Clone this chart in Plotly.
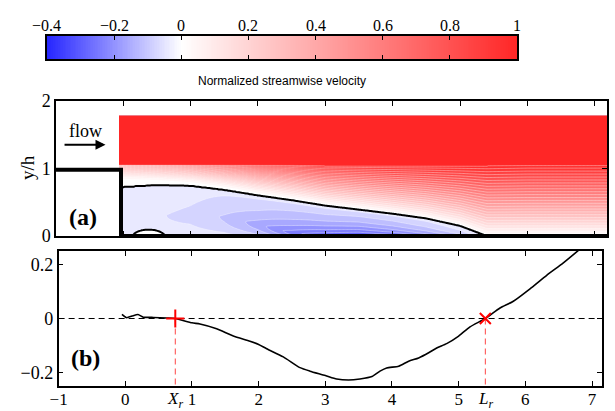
import numpy as np
import plotly.graph_objects as go

# ---------------- data ----------------
# colorbar ticks
cb_ticks = [-0.4, -0.2, 0, 0.2, 0.4, 0.6, 0.8, 1]
cb_labels = ['\u22120.4', '\u22120.2', '0', '0.2', '0.4', '0.6', '0.8', '1']

# panel (a): streamwise stations and profile descriptors of the velocity field
sx    = [-0.06, 0.0, 0.5, 1.0, 1.5, 2.0, 2.5, 3.0, 3.5, 4.0, 4.5, 5.0, 5.4, 6.0, 7.2]
h0    = [0.72, 0.72, 0.75, 0.74, 0.68, 0.60, 0.53, 0.45, 0.39, 0.33, 0.26, 0.15, 0.0, 0.0, 0.0]
umin  = [-0.03, -0.03, -0.036, -0.05, -0.085, -0.14, -0.22, -0.29, -0.31, -0.27, -0.20, -0.11, 0.0, 0.0, 0.0]
etap  = [0.4, 0.4, 0.4, 0.45, 0.42, 0.3, 0.1, 0.0, 0.0, 0.0, 0.0, 0.0, 0.0, 0.0, 0.0]
wall  = [0.6, 0.6, 0.4, 0.25, 0.25, 0.45, 0.8, 1.0, 1.0, 1.0, 1.0, 1.0, 1.0, 1.0, 1.0]
kdec  = [0.8, 0.8, 0.8, 0.8, 0.9, 1.2, 1.5, 1.8, 1.8, 1.8, 1.8, 1.8, 1.8, 1.8, 1.8]
pexp  = [3.2, 3.2, 2.4, 1.9, 1.6, 1.35, 1.2, 1.1, 1.05, 1.0, 0.97, 0.95, 0.95, 0.95, 0.95]
htop  = [1.05, 1.05, 1.05, 1.05, 1.05, 1.05, 1.05, 1.04, 1.04, 1.04, 1.04, 1.04, 1.04, 1.05, 1.05]
# small secondary corner bubble
bub_x, bub_w, bub_h, bub_amp = 0.38, 0.30, 0.14, 0.045

# panel (b): near-wall streamwise velocity
bx = [-0.05, 0.02, 0.1, 0.19, 0.27, 0.42, 0.62, 0.75, 1.0, 1.12, 1.37, 1.62, 1.87, 2.0, 2.12,
      2.37, 2.62, 2.77, 3.0, 3.17, 3.35, 3.52, 3.70, 3.82, 3.92, 4.10, 4.25, 4.40, 4.55, 4.67,
      4.82, 5.0, 5.17, 5.40, 5.62, 5.82, 6.07, 6.32, 6.57, 6.80]
by = [0.015, 0.003, 0.009, 0.015, 0.005, 0.004, 0.002, 0.0, -0.016, -0.02, -0.038, -0.065,
      -0.084, -0.096, -0.112, -0.142, -0.182, -0.195, -0.211, -0.224, -0.228, -0.224, -0.215,
      -0.195, -0.183, -0.177, -0.158, -0.146, -0.127, -0.109, -0.093, -0.065, -0.031, 0.0,
      0.039, 0.064, 0.11, 0.16, 0.206, 0.253]
Xr = 0.75
Lr = 5.40
bx_ticks = [-1, 0, 1, 2, 3, 4, 5, 6, 7]
by_ticks = [-0.2, 0, 0.2]

# ---------------- build field for panel (a) ----------------
X = np.arange(-0.06, 7.2001, 0.02)
Y = np.arange(0.0, 1.7801, 0.01)
H0 = np.interp(X, sx, h0)
UM = np.interp(X, sx, umin)
EP = np.interp(X, sx, etap)
W0 = np.interp(X, sx, wall)
KD = np.interp(X, sx, kdec)
PE = np.interp(X, sx, pexp)
HT = np.interp(X, sx, htop)

U = np.zeros((len(Y), len(X)))
for j, xv in enumerate(X):
    for i, yv in enumerate(Y):
        if yv >= HT[j]:
            u = 1.02
        elif yv >= H0[j]:
            s = (yv - H0[j]) / (HT[j] - H0[j])
            u = s ** PE[j]
        else:
            eta = yv / H0[j]
            ep = EP[j]
            if ep > 0 and eta < ep:
                f = W0[j] + (1 - W0[j]) * np.sin(np.pi / 2 * eta / ep)
            else:
                s = (eta - ep) / (1 - ep)
                f = np.exp(-KD[j] * s) * (1 - s ** 12)
            u = UM[j] * f
        r2 = ((xv - bub_x) / bub_w) ** 2 + (yv / bub_h) ** 2
        if r2 < 1:
            u += bub_amp * (1 - r2)
        U[i, j] = u

BLUE = 'rgb(38,38,255)'
RED = 'rgb(255,38,38)'
cscale = [[0, BLUE], [0.0278, BLUE], [0.3056, 'rgb(255,255,255)'], [1, RED]]

SERIF = 'Liberation Serif, Times New Roman, serif'
SANS = 'Liberation Sans, Arial, sans-serif'

fig = go.Figure()

fig.add_trace(go.Contour(
    x=X, y=Y, z=U, xaxis='x', yaxis='y',
    colorscale=cscale, showscale=False,
    contours=dict(start=-0.4, end=1.0, size=0.04, coloring='fill'),
    line=dict(color='rgba(255,255,255,0.85)', width=0.45), hoverinfo='skip'))

fig.add_trace(go.Contour(
    x=X, y=Y, z=U, xaxis='x', yaxis='y',
    colorscale=[[0, 'black'], [1, 'black']], showscale=False,
    contours=dict(start=0, end=0, size=1, coloring='lines'),
    line=dict(color='black', width=2), hoverinfo='skip'))

# colorbar as its own axes
cb_vals = np.linspace(-0.4, 1.0, 281)
fig.add_trace(go.Heatmap(
    x=cb_vals, y=[0], z=[cb_vals], xaxis='x3', yaxis='y3',
    colorscale=[[0, BLUE], [0.4 / 1.4, 'rgb(255,255,255)'], [1, RED]],
    zmin=-0.4, zmax=1.0, showscale=False, hoverinfo='skip'))

# panel (b)
fig.add_trace(go.Scatter(x=[-1, 7.15], y=[0, 0], mode='lines', xaxis='x2', yaxis='y2',
                         line=dict(color='black', width=1, dash='6px,4px'), hoverinfo='skip'))
for xv in [Xr, Lr]:
    fig.add_trace(go.Scatter(x=[xv, xv], y=[0, -0.25], mode='lines', xaxis='x2', yaxis='y2',
                             line=dict(color='rgb(255,70,70)', width=1, dash='6px,4px'),
                             hoverinfo='skip'))
fig.add_trace(go.Scatter(x=bx, y=by, mode='lines', xaxis='x2', yaxis='y2',
                         line=dict(color='black', width=1.6, shape='spline', smoothing=0.6),
                         hoverinfo='skip'))
fig.add_trace(go.Scatter(x=[Xr], y=[0], mode='markers', xaxis='x2', yaxis='y2',
                         marker=dict(symbol='cross-thin', size=13, line=dict(color='red', width=2))))
fig.add_trace(go.Scatter(x=[Lr], y=[0], mode='markers', xaxis='x2', yaxis='y2',
                         marker=dict(symbol='x-thin', size=11, line=dict(color='red', width=2))))

axis_common = dict(showgrid=False, zeroline=False, showline=True, linecolor='black',
                   linewidth=1.5, ticks='inside', ticklen=5, tickwidth=1, tickcolor='black',
                   mirror='ticks', automargin=False)

fig.update_layout(
    width=615, height=411, margin=dict(l=0, r=0, t=0, b=0, autoexpand=False),
    paper_bgcolor='white', plot_bgcolor='white', showlegend=False,
    xaxis=dict(domain=[0.0911, 0.987], range=[-0.994, 7.18], tickvals=list(range(0, 8)),
               showticklabels=False, anchor='y', **axis_common),
    yaxis=dict(domain=[0.4258, 0.7543], range=[0, 2], tickvals=[0, 1, 2], anchor='x',
               tickfont=dict(family=SERIF, size=18, color='black'), **axis_common),
    xaxis2=dict(domain=[0.0953, 0.9789], range=[-1, 7.15], tickvals=bx_ticks, anchor='y2',
                ticklabelstandoff=-3,
                tickfont=dict(family=SERIF, size=17, color='black'), **axis_common),
    yaxis2=dict(domain=[0.0608, 0.3893], range=[-0.25, 0.25], tickvals=by_ticks, anchor='x2',
                tickfont=dict(family=SERIF, size=18, color='black'), **axis_common),
    xaxis3=dict(domain=[0.0764, 0.8407], range=[-0.4, 1.0], tickvals=cb_ticks, side='top',
                anchor='y3', showgrid=False, zeroline=False, showline=True, linecolor='black',
                linewidth=1.5, ticks='inside', ticklen=4, tickcolor='black', mirror='ticks',
                showticklabels=False, automargin=False),
    yaxis3=dict(domain=[0.8564, 0.9124], range=[-0.5, 0.5], anchor='x3', showgrid=False,
                zeroline=False, showline=True, linecolor='black', linewidth=1.5, mirror=True,
                showticklabels=False, ticks='', automargin=False),
)

# step and wall
fig.add_shape(type='path', path='M -0.994,0.98 L -0.03,0.98 L -0.03,0', xref='x', yref='y',
              line=dict(color='black', width=4))
fig.add_shape(type='line', x0=-0.03, y0=0, x1=7.18, y1=0, xref='x', yref='y',
              line=dict(color='black', width=4))

ann = [
    dict(text='Normalized streamwise velocity', x=0.4585, y=0.803, xref='paper', yref='paper',
         xanchor='center', yanchor='middle',
         showarrow=False, font=dict(family=SANS, size=12, color='black')),
    dict(text='y/h', x=0.045, y=0.593, xref='paper', yref='paper', textangle=-90,
         xanchor='center', yanchor='middle',
         showarrow=False, font=dict(family=SERIF, size=19, color='black')),
    dict(text='<b>(a)</b>', x=-0.59, y=0.28, xref='x', yref='y', showarrow=False,
         xanchor='center', yanchor='middle',
         font=dict(family=SERIF, size=24, color='black')),
    dict(text='flow', x=-0.55, y=1.55, xref='x', yref='y', showarrow=False,
         xanchor='center', yanchor='middle',
         font=dict(family=SERIF, size=18, color='black')),
    dict(text='', x=-0.26, y=1.35, ax=-0.89, ay=1.35, xref='x', yref='y', axref='x', ayref='y',
         showarrow=True, arrowhead=2, arrowsize=1, arrowwidth=2, arrowcolor='black'),
    dict(text='<b>(b)</b>', x=-0.6, y=-0.145, xref='x2', yref='y2', showarrow=False,
         xanchor='center', yanchor='middle',
         font=dict(family=SERIF, size=24, color='black')),
    dict(text='<i>X<sub>r</sub></i>', x=Xr, y=0.026, xref='x2', yref='paper', showarrow=False,
         xanchor='center', yanchor='middle',
         font=dict(family=SERIF, size=17, color='black')),
    dict(text='<i>L<sub>r</sub></i>', x=Lr, y=0.026, xref='x2', yref='paper', showarrow=False,
         xanchor='center', yanchor='middle',
         font=dict(family=SERIF, size=17, color='black')),
]
for v, lab in zip(cb_ticks, cb_labels):
    ann.append(dict(text=lab, x=v, y=0.937, xref='x3', yref='paper', showarrow=False,
                    xanchor='center', yanchor='middle',
                    font=dict(family=SERIF, size=16, color='black')))
fig.update_layout(annotations=ann)

fig.write_html('out.html')
